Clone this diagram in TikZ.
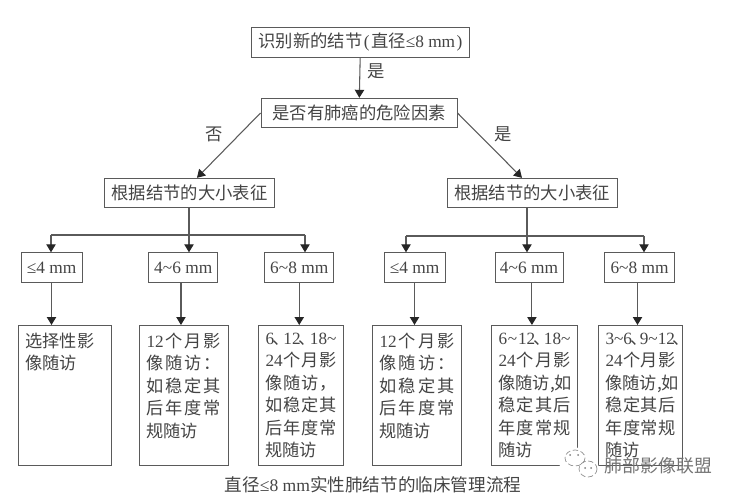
\documentclass[tikz,border=0pt]{standalone}
\usepackage{fontspec}
\setmainfont{Noto Sans CJK SC}
\newfontfamily\latn{Liberation Serif}
\usetikzlibrary{positioning,calc,arrows.meta}
\newcommand{\la}[1]{{\latn #1}}
\newcommand{\dun}{\kern-1.5pt、\kern-5.5pt}
\newcommand{\sline}[1]{\makebox[\linewidth][s]{#1}}
\newcommand{\outlines}[1]{\vbox to 94pt{\hsize=\linewidth\parindent=0pt\parskip=0pt #1\vss}}
\definecolor{inkc}{HTML}{444444}
\definecolor{linec}{HTML}{5A5A5A}
\tikzset{
    flowbox/.style={draw=linec, line width=0.75pt, text=inkc, inner sep=0, minimum height=22pt, font=\fontsize{13}{15}\selectfont},
    sizebox/.style={flowbox, minimum height=22pt},
    outbox/.style={draw=linec, line width=0.75pt, text=inkc, anchor=north west, inner xsep=5.25pt, inner ysep=5.5pt, font=\fontsize{12.9}{16.9}\selectfont},
    arrowline/.style={draw=linec, line width=0.8pt, -{Triangle[length=6pt,width=7pt,color=black!85]}},
    plainline/.style={draw=linec, line width=0.8pt},
    branchlabel/.style={text=inkc, font=\fontsize{13}{15}\selectfont},
}
\begin{document}
\begin{tikzpicture}[x=0.75pt,y=-0.75pt]
    \useasboundingbox (0,0) rectangle (736,499);
    % top of the flow
    \node[flowbox, minimum width=163pt] (start) at (360.5,42.5) {识别新的结节\kern1pt\la{(}\kern1pt 直径\la{≤8 mm}\kern1pt\la{)}};
    \node[flowbox, minimum width=147pt] (risk) at (359,113) {是否有肺癌的危险因素};
    \node[flowbox, minimum width=127.5pt] (charL) at (189.5,193) {根据结节的大小表征};
    \node[flowbox, minimum width=127.5pt] (charR) at (532,193) {根据结节的大小表征};
    \draw[arrowline] (start) -- (risk);
    \node[branchlabel] (yesA) at (376,71) {是};
    \draw[arrowline] (risk.west) -- ([xshift=5.6pt]charL.north);
    \node[branchlabel] (noA) at (214,134) {否};
    \draw[arrowline] (risk.east) -- ([xshift=-7.5pt]charR.north);
    \node[branchlabel] (yesB) at (503,134) {是};
    % size boxes
    \node[sizebox, minimum width=45.75pt] (smallL) at (51.5,267.5) {\la{≤4 mm}};
    \node[sizebox, minimum width=52pt] (midL) at (183.25,267.5) {\la{4\textasciitilde 6 mm}};
    \node[sizebox, minimum width=52pt] (bigL) at (299.25,267.5) {\la{6\textasciitilde 8 mm}};
    \node[sizebox, minimum width=45.75pt] (smallR) at (414.5,267.5) {\la{≤4 mm}};
    \node[sizebox, minimum width=51pt] (midR) at (529,267.5) {\la{4\textasciitilde 6 mm}};
    \node[sizebox, minimum width=52pt] (bigR) at (639.5,267.5) {\la{6\textasciitilde 8 mm}};
    % left bus
    \coordinate (busL) at (189,235);
    \coordinate (busLa) at (51,235);
    \coordinate (busLb) at (305,235);
    \draw[plainline] (charL.south -| busL) -- (busL);
    \draw[plainline] (busLa) -- (busLb);
    \draw[arrowline] (busLa) -- (busLa |- smallL.north);
    \draw[arrowline] (busL) -- (busL |- midL.north);
    \draw[arrowline] (busLb) -- (busLb |- bigL.north);
    % right bus
    \coordinate (busR) at (527,236);
    \coordinate (busRa) at (406,236);
    \coordinate (busRb) at (644,236);
    \draw[plainline] (charR.south -| busR) -- (busR);
    \draw[plainline] (busRa) -- (busRb);
    \draw[arrowline] (busRa) -- (busRa |- smallR.north);
    \draw[arrowline] (busR) -- (busR |- midR.north);
    \draw[arrowline] (busRb) -- (busRb |- bigR.north);
    % outcome boxes
    \node[outbox, text width=59.25pt] (outA) at (18,325) {\outlines{选择性影\\像随访}};
    \node[outbox, text width=55.9pt] (outB) at (139,325) {\outlines{\sline{\la{12}\hfill 个\hfill 月\hfill 影}\\\sline{像\hfill 随\hfill 访\hfill ：}\\\sline{如\hfill 稳\hfill 定\hfill 其}\\\sline{后\hfill 年\hfill 度\hfill 常}\\规随访}};
    \node[outbox, text width=53.25pt] (outC) at (258,325) {\outlines{\sline{\la{6}\dun\hfill\la{12}\dun\hfill\la{18\textasciitilde}}\\\sline{\la{24}\hfill 个\hfill 月\hfill 影}\\\sline{像\hfill 随\hfill 访\hfill ，}\\\sline{如\hfill 稳\hfill 定\hfill 其}\\\sline{后\hfill 年\hfill 度\hfill 常}\\规随访}};
    \node[outbox, text width=56.25pt] (outD) at (372,325) {\outlines{\sline{\la{12}\hfill 个\hfill 月\hfill 影}\\\sline{像\hfill 随\hfill 访\hfill ：}\\\sline{如\hfill 稳\hfill 定\hfill 其}\\\sline{后\hfill 年\hfill 度\hfill 常}\\规随访}};
    \node[outbox, text width=54pt] (outE) at (491,325) {\outlines{\sline{\la{6\hfill\textasciitilde\hfill 12}\dun\hfill\la{18\textasciitilde}}\\\sline{\la{24}\hfill 个\hfill 月\hfill 影}\\\sline{像\hfill 随\hfill 访\hfill ,\hfill 如}\\\sline{稳\hfill 定\hfill 其\hfill 后}\\\sline{年\hfill 度\hfill 常\hfill 规}\\随访}};
    \node[outbox, text width=52.5pt] (outF) at (598,325) {\outlines{\sline{\la{3\textasciitilde 6}\dun\hfill\la{9\textasciitilde 12}\dun}\\\sline{\la{24}\hfill 个\hfill 月\hfill 影}\\\sline{像\hfill 随\hfill 访\hfill ,\hfill 如}\\\sline{稳\hfill 定\hfill 其\hfill 后}\\\sline{年\hfill 度\hfill 常\hfill 规}\\随访}};
    \draw[arrowline] (smallL.south) -- (smallL.south |- outA.north);
    \draw[arrowline] ([xshift=-1.7pt]midL.south) -- ([xshift=-1.7pt]midL.south |- outB.north);
    \draw[arrowline] (bigL.south) -- (bigL.south |- outC.north);
    \draw[arrowline] (smallR.south) -- (smallR.south |- outD.north);
    \draw[arrowline] ([xshift=2.2pt]midR.south) -- ([xshift=2.2pt]midR.south |- outE.north);
    \draw[arrowline] ([xshift=-1.5pt]bigR.south) -- ([xshift=-1.5pt]bigR.south |- outF.north);
    % caption and mark
    \node[branchlabel, font=\fontsize{13.2}{15}\selectfont] (caption) at (373,485) {直径\la{≤8 mm}实性肺结节的临床管理流程};
    \fill[white] (573,461) circle (14) (588,469) circle (11);
    \node[branchlabel, text=black!55, font=\fontsize{13.4}{15}\selectfont, anchor=west] (mark) at (600,466) {肺部影像联盟};
    \draw[black!45, line width=0.5pt, dash pattern=on 4pt off 2pt] (575,458) ellipse (10 and 8);
    \draw[black!45, line width=0.5pt, dash pattern=on 4pt off 2pt] (588,469) ellipse (9 and 8);
    \fill[black!50] (570,455) circle (1) (578,455) circle (1) (585,468) circle (1) (591,468) circle (1);
\end{tikzpicture}
\end{document}
